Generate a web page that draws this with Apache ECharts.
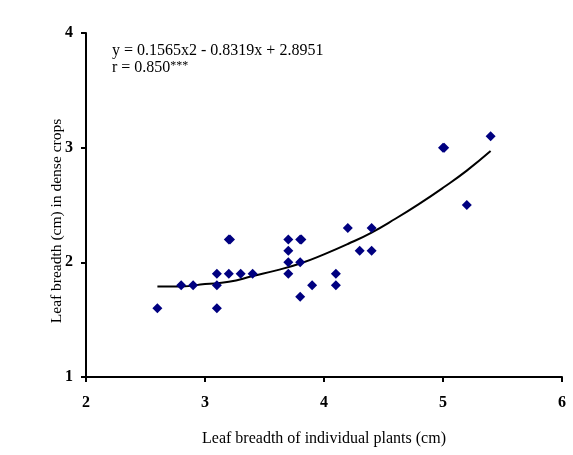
<!DOCTYPE html>
<html>
<head>
<meta charset="utf-8">
<style>
    html, body { margin: 0; padding: 0; background: #fff; }
    #chart { width: 573px; height: 455px; }
</style>
<script src="https://cdn.jsdelivr.net/npm/echarts@6/dist/echarts.min.js"></script>
</head>
<body>
<div id="chart"></div>
<script>
    // scatter points
    var pointsX = [2.6, 2.8, 2.9, 3.1, 3.1, 3.1, 3.2, 3.21, 3.2, 3.3, 3.4, 3.7, 3.7, 3.7, 3.7,
                   3.8, 3.81, 3.8, 3.8, 3.9, 4.1, 4.1, 4.2, 4.3, 4.4, 4.4, 5.0, 5.01, 5.2, 5.4];
    var pointsY = [1.6, 1.8, 1.8, 1.9, 1.8, 1.6, 2.2, 2.2, 1.9, 1.9, 1.9, 2.2, 2.1, 2.0, 1.9,
                   2.2, 2.2, 2.0, 1.7, 1.8, 1.9, 1.8, 2.3, 2.1, 2.3, 2.1, 3.0, 3.0, 2.5, 3.1];
    // trend curve
    var trendX = [2.6, 2.8, 3.0, 3.2, 3.4, 3.6, 3.8, 4.0, 4.2, 4.4, 4.6, 4.8, 5.0, 5.2, 5.4];
    var trendY = [1.79, 1.79, 1.81, 1.83, 1.88, 1.93, 1.99, 2.07, 2.16, 2.26, 2.38, 2.51, 2.65, 2.80, 2.97];
    var xTicks = [2, 3, 4, 5, 6];
    var yTicks = [1, 2, 3, 4];

    var pts = pointsX.map(function (x, i) { return [x, pointsY[i]]; });
    var trend = trendX.map(function (x, i) { return [x, trendY[i]]; });

    var font = 'Liberation Serif';
    var chart = echarts.init(document.getElementById('chart'));
    var option = {
        animation: false,
        grid: { left: 86, right: 11, top: 33, bottom: 78 },
        xAxis: {
            type: 'value', min: xTicks[0], max: xTicks[xTicks.length - 1], interval: 1,
            name: 'Leaf breadth of individual plants (cm)',
            nameLocation: 'middle', nameGap: 54,
            nameTextStyle: { fontFamily: font, fontSize: 16, color: '#000' },
            axisLine: { lineStyle: { color: '#000', width: 2 } },
            axisTick: { show: true, length: 5, lineStyle: { color: '#000', width: 2 } },
            axisLabel: { fontFamily: font, fontSize: 16, fontWeight: 'bold', color: '#000', margin: 18 },
            splitLine: { show: false }
        },
        yAxis: {
            type: 'value', min: yTicks[0], max: yTicks[yTicks.length - 1], interval: 1,
            axisLine: { show: true, lineStyle: { color: '#000', width: 2 } },
            axisTick: { show: true, length: 5, lineStyle: { color: '#000', width: 2 } },
            axisLabel: { fontFamily: font, fontSize: 16, fontWeight: 'bold', color: '#000', margin: 13 },
            splitLine: { show: false }
        },
        graphic: [
            {
                // y axis title, sits a bit below the middle in the original
                type: 'text', x: 57, y: 221, rotation: Math.PI / 2,
                style: {
                    text: 'Leaf breadth (cm) in dense crops', font: '15.5px "Liberation Serif"',
                    fill: '#000', align: 'center', verticalAlign: 'middle'
                }
            },
            {
                type: 'text', left: 112, top: 43,
                style: { text: 'y = 0.1565x2 - 0.8319x + 2.8951', font: '16px "Liberation Serif"', fill: '#000' }
            },
            {
                type: 'text', left: 112, top: 60,
                style: {
                    text: 'r = 0.850{s|***}',
                    font: '16px "Liberation Serif"', fill: '#000',
                    rich: { s: { fontFamily: font, fontSize: 12, verticalAlign: 'top', padding: [0, 0, 4, 0] } }
                }
            }
        ],
        series: [
            {
                type: 'line', data: trend, smooth: true, showSymbol: false, symbol: 'none',
                lineStyle: { color: '#000', width: 2 }, z: 2
            },
            {
                type: 'scatter', data: pts, symbol: 'diamond', symbolSize: 10,
                itemStyle: { color: '#000080', opacity: 1 }, z: 3
            }
        ]
    };
    chart.setOption(option);
</script>
</body>
</html>
